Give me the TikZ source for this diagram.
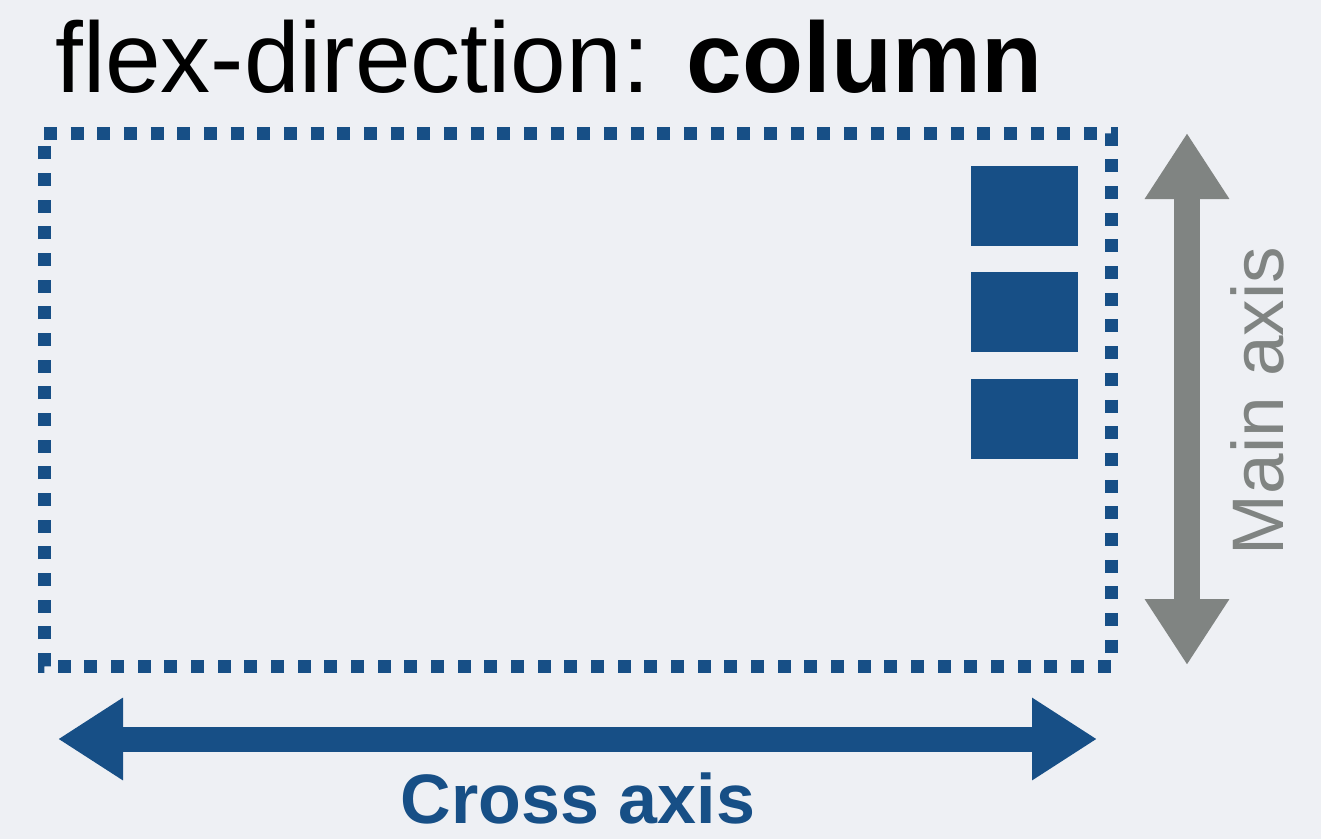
\documentclass[tikz,border=0pt]{standalone}
\usepackage{fontspec}
\setmainfont{Liberation Sans}
\usetikzlibrary{arrows.meta}
\definecolor{bgc}{RGB}{238,240,244}
\definecolor{flexblue}{RGB}{23,79,134}
\definecolor{axisgray}{RGB}{128,132,130}
\begin{document}
\begin{tikzpicture}[x=1pt,y=-1pt,
  container/.style={draw=flexblue,line width=13pt,dash pattern=on 13pt off 13.67pt,line join=miter},
  item/.style={fill=flexblue,draw=none},
  crossarrow/.style={draw=flexblue,line width=25pt,{Triangle[length=65pt,width=78pt]}-{Triangle[length=65pt,width=78pt]}},
  mainarrow/.style={draw=axisgray,line width=26pt,{Triangle[length=66pt,width=80pt]}-{Triangle[length=66pt,width=80pt]}},
  titletext/.style={font=\fontsize{100pt}{120pt}\selectfont,inner sep=0pt,anchor=base west},
  crosslabel/.style={font=\fontsize{70pt}{84pt}\selectfont\bfseries,text=flexblue,inner sep=0pt,anchor=base},
  mainlabel/.style={font=\fontsize{73pt}{88pt}\selectfont,text=axisgray,inner sep=0pt,anchor=base,rotate=90}]
\fill[bgc] (0,0) rectangle (1321,839);
\useasboundingbox (0,0) rectangle (1321,839);
\node[titletext] (title) at (55,92) {flex-direction: \textbf{column}};
\draw[container] (44,133) -- (1111,133) -- (1111,666) -- (44,666) -- cycle;
\path[item] (971,166) rectangle (1078,246);
\path[item] (971,272) rectangle (1078,352);
\path[item] (971,379) rectangle (1078,459);
\coordinate (mtop) at (1187,133);
\coordinate (mbot) at (1187,665);
\draw[mainarrow] (mtop) -- (mbot);
\coordinate (cleft) at (58,739);
\coordinate (cright) at (1097,739);
\draw[crossarrow] (cleft) -- (cright);
\node[crosslabel] (cross) at (578,823) {Cross axis};
\node[mainlabel] (main) at (1283,401) {Main axis};
\end{tikzpicture}
\end{document}
